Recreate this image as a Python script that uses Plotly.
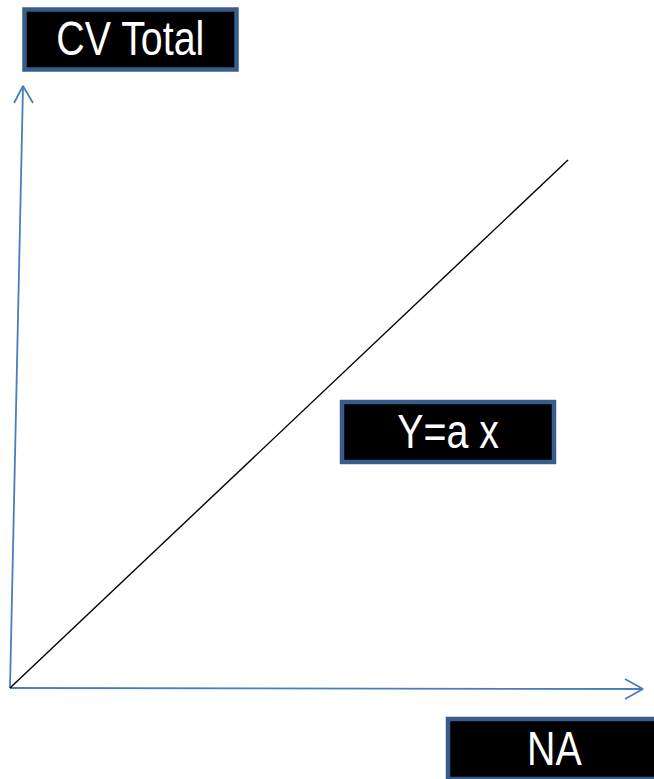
import plotly.graph_objects as go

# origin of the sketch sits at (0, 0); units are screen pixels
y_axis_x = [0, 13]
y_axis_y = [0, 602]
y_arrow_x = [4, 13, 23]
y_arrow_y = [585, 602, 585]

x_axis_x = [0, 633]
x_axis_y = [0, -1]
x_arrow_x = [615, 633, 615]
x_arrow_y = [9, -1, -11]

line_x = [0, 558]
line_y = [0, 528]

labels = ["CV Total", "Y=a x", "NA"]
label_x = [120.5, 438, 544]
label_y = [648.5, 256, -61]

axis_blue = "#4A7EBB"
box_border = "#385D8A"

fig = go.Figure()
for xs, ys in [(y_axis_x, y_axis_y), (y_arrow_x, y_arrow_y),
               (x_axis_x, x_axis_y), (x_arrow_x, x_arrow_y)]:
    fig.add_trace(go.Scatter(x=xs, y=ys, mode="lines",
                             line=dict(color=axis_blue, width=1.8),
                             hoverinfo="skip"))

fig.add_trace(go.Scatter(x=line_x, y=line_y, mode="lines",
                         line=dict(color="black", width=1.4),
                         hoverinfo="skip"))

# black label boxes, 212 x 60 between border centres
for lx, ly, txt in zip(label_x, label_y, labels):
    fig.add_shape(type="rect", x0=lx - 106, x1=lx + 106, y0=ly - 30, y1=ly + 30,
                  fillcolor="black", line=dict(color=box_border, width=4.5),
                  layer="above")
    fig.add_annotation(x=lx, y=ly, text=txt, showarrow=False,
                       font=dict(family="Liberation Sans, Arial, sans-serif",
                                 size=48, color="white"),
                       yshift=1)

fig.update_layout(
    width=654, height=779,
    margin=dict(l=0, r=0, t=0, b=0),
    paper_bgcolor="white", plot_bgcolor="white",
    showlegend=False,
    xaxis=dict(range=[-10, 644], visible=False, fixedrange=True),
    yaxis=dict(range=[-91, 688], visible=False, fixedrange=True),
)

# no narrow font installed: squeeze the label text to look like Arial Narrow
css = ("text.annotation-text{transform-box:fill-box;transform-origin:center;"
       "transform:scaleX(0.82);}")
fig.write_html("out.html", config={"displayModeBar": False},
               post_script="document.body.style.margin='0';document.body.style.overflow='hidden';"
                           "var s=document.createElement('style');s.textContent='" + css + "';"
                           "document.head.appendChild(s);")
